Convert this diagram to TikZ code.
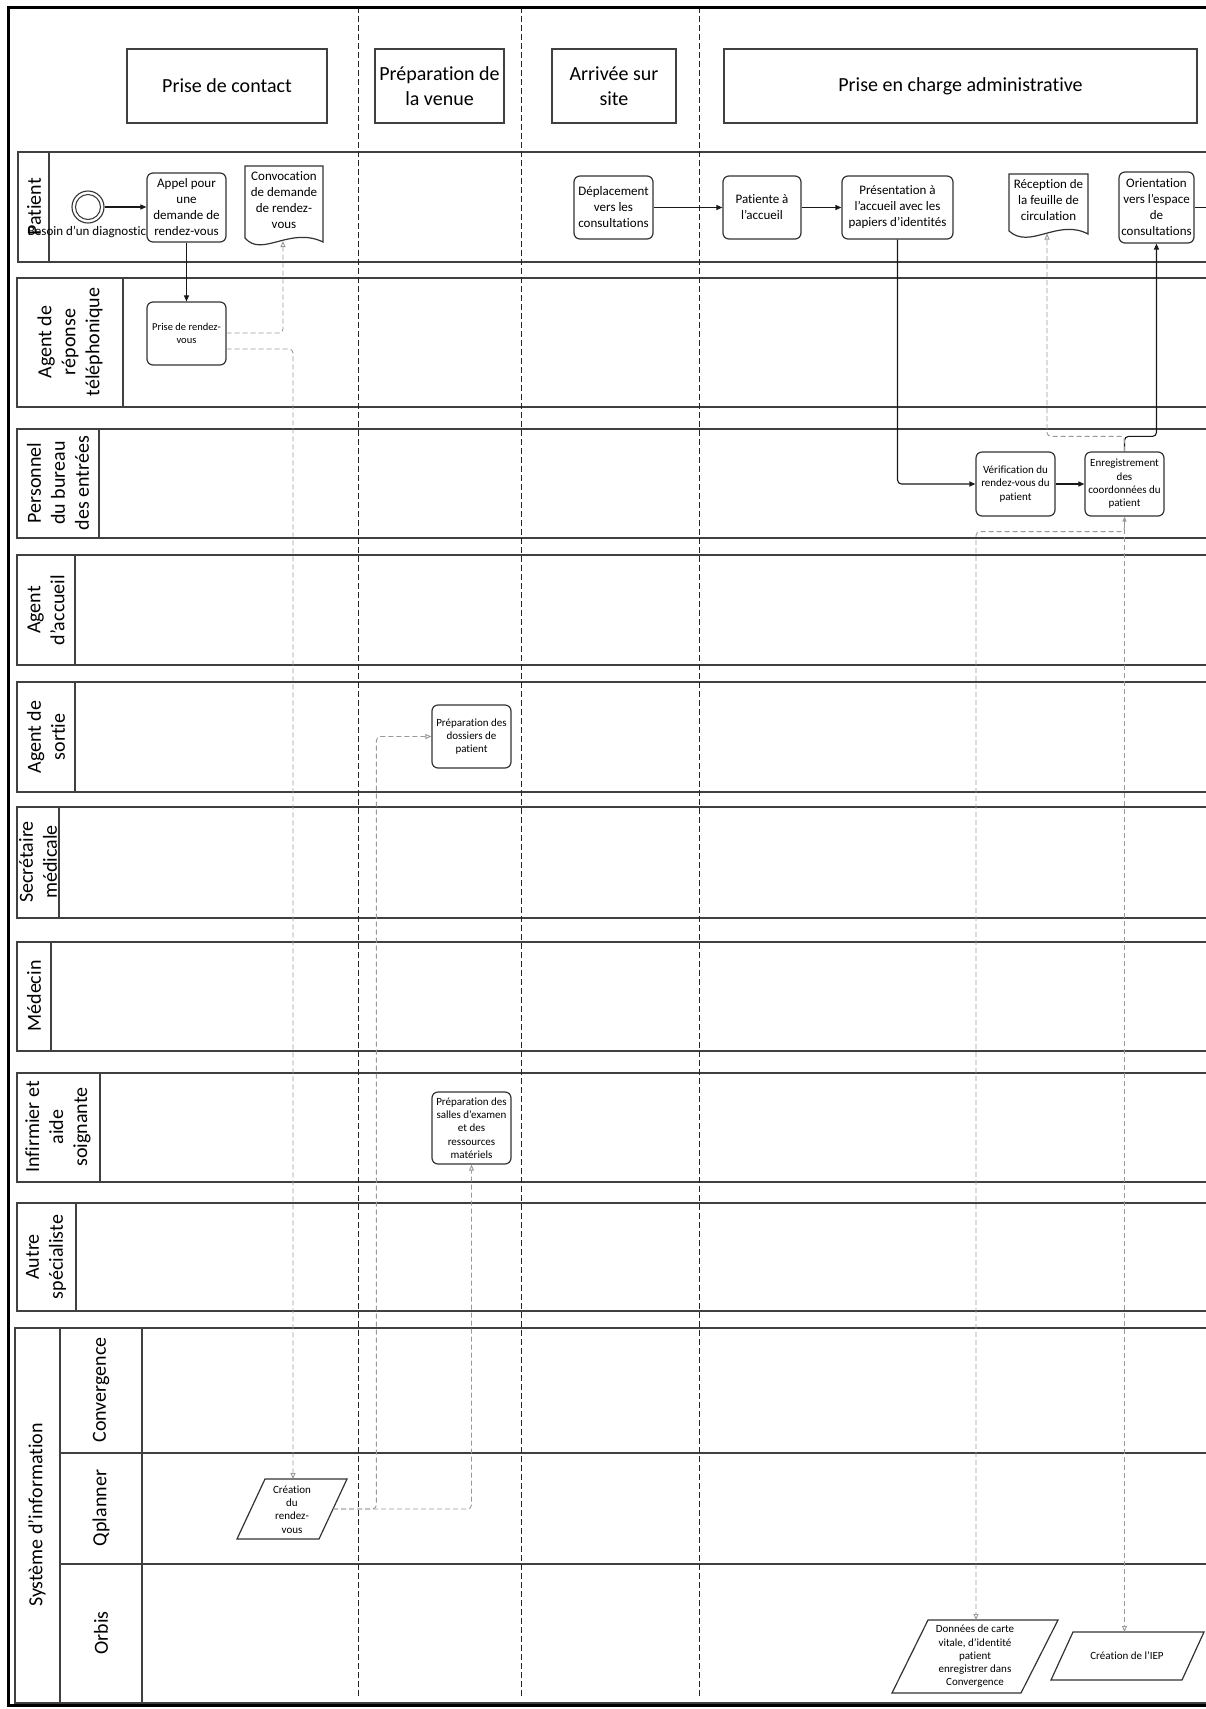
\documentclass[tikz,border=0pt]{standalone}
\usepackage{fontspec}
\setmainfont[Ligatures={NoCommon}]{Carlito}
\usetikzlibrary{arrows.meta,calc}
\begin{document}
\begin{tikzpicture}[x=1pt,y=-1pt,
  lane/.style={draw=black!75, line width=1.3pt},
  phase/.style={draw=black!85, line width=1pt, dash pattern=on 6pt off 3pt},
  hdr/.style={draw=black!75, line width=1.2pt, font=\fontsize{20}{24.5}\selectfont, align=center, inner sep=0pt},
  lbl/.style={rotate=90, font=\fontsize{20}{24}\selectfont, align=center, inner sep=0pt},
  task/.style={draw=black!80, line width=1.2pt, rounded corners=6pt, fill=white, align=center, inner sep=0pt, font=\fontsize{13}{16}\selectfont},
  smalltask/.style={task, font=\fontsize{11}{13.3}\selectfont},
  txt/.style={align=center, inner sep=0pt, font=\fontsize{13}{16}\selectfont},
  stxt/.style={align=center, inner sep=0pt, font=\fontsize{11}{13.3}\selectfont},
  shp/.style={draw=black!80, line width=1.2pt, fill=white},
  flow/.style={draw=black!90, line width=1.1pt, -{Triangle[length=6pt,width=5pt]}, rounded corners=4pt},
  msg/.style={draw=black!40, line width=0.9pt, dash pattern=on 5pt off 3pt, -{Triangle[open,length=6pt,width=5pt]}, rounded corners=4pt},
]
\useasboundingbox (0,0) rectangle (1206,1709);
\clip (0,0) rectangle (1206,1709);
\fill[white] (0,0) rectangle (1206,1709);

% ---- lanes
\draw[lane] (18,152) rectangle (1240,262); \draw[lane] (49,152) -- (49,262);
\draw[lane] (17,278) rectangle (1240,407); \draw[lane] (123,278) -- (123,407);
\draw[lane] (17,429) rectangle (1240,538); \draw[lane] (99,429) -- (99,538);
\draw[lane] (17,555) rectangle (1240,665); \draw[lane] (75,555) -- (75,665);
\draw[lane] (17,682) rectangle (1240,792); \draw[lane] (75,682) -- (75,792);
\draw[lane] (17,807) rectangle (1240,918); \draw[lane] (59,807) -- (59,918);
\draw[lane] (17,942) rectangle (1240,1051); \draw[lane] (51,942) -- (51,1051);
\draw[lane] (17,1073) rectangle (1240,1182); \draw[lane] (100,1073) -- (100,1182);
\draw[lane] (17,1203) rectangle (1240,1311); \draw[lane] (76,1203) -- (76,1311);
\draw[lane] (15,1328) rectangle (1240,1703);
\draw[lane] (60,1328) -- (60,1703);
\draw[lane] (142,1328) -- (142,1703);
\draw[lane] (60,1453) -- (1240,1453);
\draw[lane] (60,1564) -- (1240,1564);

% ---- lane labels
\node[lbl] (lpat) at (34,207) {Patient};
\node[lbl] (lrep) at (70,342) {Agent de\\réponse\\téléphonique};
\node[lbl] (lbur) at (58,483) {Personnel\\du bureau\\des entrées};
\node[lbl] (lacc) at (46,610) {Agent\\d’accueil};
\node[lbl] (lsor) at (46,737) {Agent de\\sortie};
\node[lbl] (lsec) at (38,862) {Secrétaire\\médicale};
\node[lbl] (lmed) at (34,996) {Médecin};
\node[lbl] (linf) at (58,1127) {Infirmier et\\aide\\soignante};
\node[lbl] (laut) at (46,1257) {Autre\\spécialiste};
\node[lbl] (lsi) at (37,1515) {Système d’information};
\node[lbl] (lconv) at (101,1390) {Convergence};
\node[lbl] (lqpl) at (101,1508) {Qplanner};
\node[lbl] (lorb) at (101,1633) {Orbis};

% ---- phase headers
\node[hdr, minimum width=200pt, minimum height=74pt] (h1) at (227,86) {Prise de contact};
\node[hdr, minimum width=129pt, minimum height=74pt] (h2) at (439.5,86) {Préparation de\\la venue};
\node[hdr, minimum width=124pt, minimum height=74pt] (h3) at (614,86) {Arrivée sur\\site};
\node[hdr, minimum width=473pt, minimum height=74pt] (h4) at (960.5,86) {Prise en charge administrative};

% ---- phase separators
\draw[phase] (358,7) -- (358,1698);
\draw[phase] (521,7) -- (521,1698);
\draw[phase] (699,7) -- (699,1698);

% ---- start event
\node[circle, draw=black!80, line width=1.1pt, minimum size=32pt, inner sep=0pt, fill=white] (start) at (88,207) {};
\node[circle, draw=black!80, line width=1pt, minimum size=25pt, inner sep=0pt] (startin) at (start) {};
\node[txt] (besoin) at (87,232) {Besoin d’un diagnostic};

% ---- tasks
\node[task, minimum width=79pt, minimum height=69pt] (appel) at (186.5,207.5) {Appel pour\\une\\demande de\\rendez-vous};
\node[task, minimum width=79pt, minimum height=63pt] (depl) at (613.5,207.5) {Déplacement\\vers les\\consultations};
\node[task, minimum width=78pt, minimum height=63pt] (pat) at (762,207.5) {Patiente à\\l’accueil};
\node[task, minimum width=111pt, minimum height=63pt] (pres) at (897.5,207.5) {Présentation à\\l’accueil avec les\\papiers d’identités};
\node[task, minimum width=75pt, minimum height=71pt] (orient) at (1156.5,207.5) {Orientation\\vers l’espace\\de\\consultations};
\node[task, minimum width=79pt, minimum height=63pt, font=\fontsize{10.5}{12.7}\selectfont] (prdv) at (186.5,333.5) {Prise de rendez-\\vous};
\node[smalltask, minimum width=79pt, minimum height=64pt] (verif) at (1015.5,484) {Vérification du\\rendez-vous du\\patient};
\node[smalltask, minimum width=79pt, minimum height=64pt] (enr) at (1124.5,484) {Enregistrement\\des\\coordonnées du\\patient};
\node[smalltask, minimum width=79pt, minimum height=63pt] (doss) at (471.5,736.5) {Préparation des\\dossiers de\\patient};
\node[smalltask, minimum width=79pt, minimum height=72pt] (salles) at (471.5,1128) {Préparation des\\salles d’examen\\et des\\ressources\\matériels};

% ---- documents
\draw[shp] (245,166) -- (245,238) .. controls (262,258) and (290,226) .. (323,242) -- (323,166) -- cycle;
\node[txt] (conv) at (284,200.5) {Convocation\\de demande\\de rendez-\\vous};
\coordinate (convb) at (283,241);
\draw[shp] (1009,174) -- (1009,231) .. controls (1030,250) and (1058,218) .. (1088,234) -- (1088,174) -- cycle;
\node[txt] (recep) at (1048.5,200.5) {Réception de\\la feuille de\\circulation};
\coordinate (recepb) at (1047,233.5);

% ---- data objects (parallelograms)
\draw[shp] (237,1539) -- (265,1479) -- (347,1479) -- (319,1539) -- cycle;
\node[stxt] (crea) at (292,1509.5) {Création\\du\\rendez-\\vous};
\coordinate (creat) at (293,1479);
\coordinate (creae) at (333,1509);
\draw[shp] (892,1693) -- (928,1620) -- (1058,1620) -- (1021,1693) -- cycle;
\node[stxt] (donn) at (975,1656.5) {Données de carte\\vitale, d’identité\\patient\\enregistrer dans\\Convergence};
\coordinate (donnt) at (976,1620);
\draw[shp] (1051,1680) -- (1073,1632) -- (1204,1632) -- (1182,1680) -- cycle;
\node[stxt] (iep) at (1127,1656) {Création de l’IEP};
\coordinate (iept) at (1124.5,1632);

% ---- sequence flows
\draw[flow] (start.east) -- (start.east -| appel.west);
\draw[flow] (appel) -- (prdv);
\draw[flow] (depl) -- (pat);
\draw[flow] (pat) -- (pres);
\draw[flow] (pres.south) |- (verif.west);
\draw[flow] (verif) -- (enr);
\draw[flow] (enr.north) -- ++(0,-15) -| (orient.south);
\coordinate (offr) at (1240,207.5);
\draw[draw=black!90, line width=1.1pt] (orient.east) -- (offr);

% ---- data associations
\draw[msg] ($(prdv.east)+(0,-0.5)$) -| (convb);
\draw[msg] ($(prdv.east)+(0,15.5)$) -| (creat);
\draw[msg] (creae) -| ($(doss.west)+(-55,0)$) -- (doss.west);
\draw[msg] (creae) -| (salles.south);
\draw[msg] (enr.north) -- ++(0,-15) -| (recepb);
\draw[msg] (enr.south) -- ++(0,15) -| (donnt);
\draw[msg, {Triangle[open,length=5pt,width=4pt]}-{Triangle[open,length=6pt,width=5pt]}] (enr.south) -- (iept);

% ---- outer frame
\draw[black, line width=3pt] (8.5,7.5) rectangle (1260,1705.5);
\end{tikzpicture}
\end{document}
